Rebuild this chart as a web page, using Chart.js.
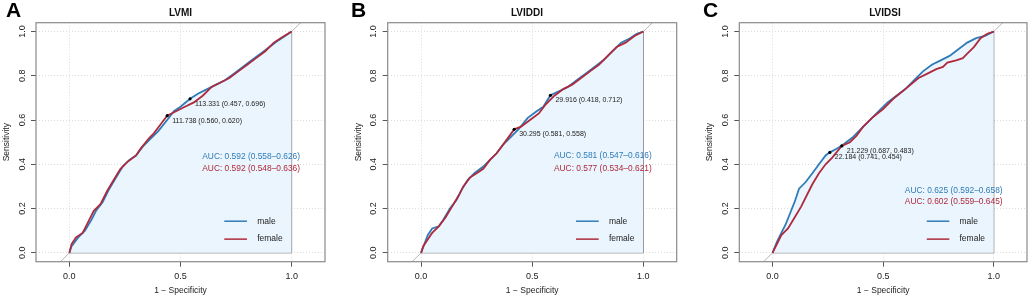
<!DOCTYPE html>
<html>
<head>
<meta charset="utf-8">
<script src="https://cdn.jsdelivr.net/npm/chart.js@4.4.1/dist/chart.umd.min.js"></script>
<style>
  body { margin: 0; background: #fff; width: 1031px; height: 299px; overflow: hidden; position: relative; }
  canvas { position: absolute; top: 0; }
</style>
</head>
<body>
<canvas id="rocA" width="329" height="299" style="left:0px"></canvas>
<canvas id="rocB" width="330" height="299" style="left:351px"></canvas>
<canvas id="rocC" width="328" height="299" style="left:703px"></canvas>
<script>
// axis ticks
const xTicks = [0, 0.5, 1];
const yTicks = [0, 0.2, 0.4, 0.6, 0.8, 1];
const groups = ['male', 'female'];

// ROC curves, [1 - specificity, sensitivity]
const lvmiMale = [[0,0],[0.01,0.03],[0.04,0.07],[0.07,0.10],[0.10,0.15],[0.12,0.19],[0.15,0.23],[0.18,0.29],[0.21,0.34],[0.24,0.39],[0.27,0.42],[0.30,0.44],[0.33,0.48],[0.36,0.51],[0.40,0.55],[0.44,0.60],[0.47,0.64],[0.50,0.66],[0.543,0.696],[0.58,0.72],[0.62,0.74],[0.66,0.76],[0.70,0.78],[0.74,0.81],[0.78,0.84],[0.82,0.87],[0.86,0.90],[0.90,0.93],[0.94,0.96],[0.97,0.98],[1,1]];
const lvmiFemale = [[0,0],[0.01,0.04],[0.03,0.07],[0.06,0.09],[0.09,0.15],[0.11,0.19],[0.14,0.22],[0.17,0.28],[0.20,0.33],[0.23,0.38],[0.26,0.41],[0.30,0.44],[0.32,0.47],[0.36,0.52],[0.38,0.54],[0.41,0.58],[0.44,0.62],[0.48,0.64],[0.52,0.66],[0.56,0.68],[0.60,0.71],[0.64,0.75],[0.68,0.77],[0.72,0.79],[0.76,0.82],[0.80,0.85],[0.84,0.88],[0.88,0.91],[0.92,0.95],[0.95,0.97],[1,1]];
const lviddiMale = [[0,0],[0.015,0.04],[0.03,0.08],[0.05,0.11],[0.08,0.12],[0.10,0.15],[0.13,0.20],[0.16,0.24],[0.18,0.28],[0.21,0.33],[0.24,0.36],[0.28,0.39],[0.31,0.42],[0.34,0.45],[0.37,0.49],[0.40,0.52],[0.44,0.56],[0.48,0.61],[0.52,0.64],[0.55,0.66],[0.582,0.712],[0.62,0.73],[0.66,0.75],[0.70,0.78],[0.74,0.81],[0.78,0.84],[0.82,0.87],[0.86,0.91],[0.90,0.95],[0.94,0.97],[0.97,0.99],[1,1]];
const lviddiFemale = [[0,0],[0.01,0.03],[0.03,0.06],[0.05,0.09],[0.08,0.12],[0.11,0.16],[0.14,0.21],[0.17,0.26],[0.19,0.30],[0.22,0.34],[0.25,0.36],[0.28,0.38],[0.31,0.42],[0.34,0.45],[0.37,0.49],[0.419,0.558],[0.45,0.57],[0.49,0.60],[0.53,0.63],[0.56,0.67],[0.60,0.71],[0.64,0.74],[0.68,0.76],[0.72,0.79],[0.76,0.82],[0.80,0.85],[0.84,0.89],[0.88,0.93],[0.92,0.95],[0.96,0.98],[1,1]];
const lvidsiMale = [[0,0],[0.02,0.05],[0.04,0.09],[0.06,0.13],[0.08,0.18],[0.10,0.23],[0.12,0.29],[0.15,0.32],[0.18,0.36],[0.21,0.40],[0.24,0.44],[0.259,0.454],[0.29,0.47],[0.32,0.49],[0.36,0.52],[0.40,0.56],[0.44,0.60],[0.48,0.64],[0.52,0.68],[0.56,0.71],[0.60,0.74],[0.64,0.78],[0.68,0.82],[0.72,0.85],[0.76,0.87],[0.80,0.89],[0.84,0.92],[0.88,0.95],[0.92,0.97],[0.96,0.98],[1,1]];
const lvidsiFemale = [[0,0],[0.02,0.04],[0.04,0.08],[0.07,0.11],[0.10,0.16],[0.13,0.21],[0.15,0.25],[0.18,0.31],[0.21,0.36],[0.24,0.40],[0.27,0.43],[0.313,0.483],[0.35,0.50],[0.38,0.53],[0.41,0.57],[0.45,0.61],[0.50,0.65],[0.55,0.70],[0.60,0.74],[0.66,0.79],[0.70,0.81],[0.74,0.83],[0.77,0.84],[0.79,0.86],[0.83,0.87],[0.86,0.88],[0.88,0.90],[0.91,0.93],[0.94,0.97],[0.97,0.99],[1,1]];

// best thresholds: value, specificity, sensitivity
const lvmiThreshold = [113.331, 111.738];
const lvmiSpec = [0.457, 0.560];
const lvmiSens = [0.696, 0.620];
const lviddiThreshold = [29.916, 30.295];
const lviddiSpec = [0.418, 0.581];
const lviddiSens = [0.712, 0.558];
const lvidsiThreshold = [21.229, 22.184];
const lvidsiSpec = [0.687, 0.741];
const lvidsiSens = [0.483, 0.454];

// AUC with 95% CI, [male, female]
const lvmiAuc = [0.592, 0.592], lvmiLow = [0.558, 0.548], lvmiHigh = [0.626, 0.636];
const lviddiAuc = [0.581, 0.577], lviddiLow = [0.547, 0.534], lviddiHigh = [0.616, 0.621];
const lvidsiAuc = [0.625, 0.602], lvidsiLow = [0.592, 0.559], lvidsiHigh = [0.658, 0.645];

// polygon frame and chance line
const aucFrame = [[0,0],[1,0],[1,1]];
const chanceLine = [[-0.2,-0.2],[1.2,1.2]];

const blue = '#2f7bb9';
const red = '#ae2a3c';
const fillBlue = '#ebf5fd';
const font = "'Liberation Sans', Arial, sans-serif";
const pts = arr => arr.map(([x, y]) => ({ x, y }));

function drawPanel(id, p) {
  const canvas = document.getElementById(id);
  const off = parseFloat(canvas.style.left);
  const thres = p.spec.map((s, i) => ({ x: 1 - s, y: p.sens[i] }));

  new Chart(canvas, {
    type: 'scatter',
    data: {
      datasets: [
        { data: thres, pointRadius: 1.6, pointBackgroundColor: '#000', pointBorderWidth: 0 },
        { label: groups[1], data: pts(p.female), showLine: true, borderColor: red, borderWidth: 1.8, pointRadius: 0 },
        { label: groups[0], data: pts(p.male), showLine: true, borderColor: blue, borderWidth: 1.8, pointRadius: 0,
          fill: 'origin', backgroundColor: fillBlue },
        { data: pts(aucFrame), showLine: true, borderColor: '#7a7a7a', borderWidth: 1, pointRadius: 0 },
        { data: pts(chanceLine), showLine: true, borderColor: '#b4b4b4', borderWidth: 1, pointRadius: 0 }
      ]
    },
    options: {
      responsive: false,
      animation: false,
      layout: { padding: { top: 22.7, left: 0, bottom: 0, right: canvas.width - p.yW - p.boxW } },
      plugins: { legend: { display: false }, tooltip: { enabled: false } },
      scales: {
        x: {
          type: 'linear', min: -0.15, max: 1.15,
          afterBuildTicks: s => { s.ticks = xTicks.map(v => ({ value: v })); },
          afterFit: s => { s.height = 37.3; },
          grid: { color: '#dcdcdc', tickColor: '#555', tickLength: 5, tickWidth: 1 },
          border: { display: false, dash: [1, 2] },
          ticks: { font: { family: font, size: 9 }, color: '#222', padding: 4, maxRotation: 0, callback: v => v.toFixed(1) },
          title: { display: true, text: '1 − Specificity', font: { family: font, size: 8.5 }, color: '#222', padding: { top: 0, bottom: 3.4 } }
        },
        y: {
          type: 'linear', min: -0.04, max: 1.04,
          afterBuildTicks: s => { s.ticks = yTicks.map(v => ({ value: v })); },
          afterFit: s => { s.width = p.yW; },
          grid: { color: '#dcdcdc', tickColor: '#555', tickLength: 5, tickWidth: 1 },
          border: { display: false, dash: [1, 2] },
          ticks: { display: false }
        }
      }
    },
    plugins: [{
      id: 'rocText',
      afterDraw(chart) {
        const { ctx, chartArea: a, scales: { x, y } } = chart;
        ctx.save();
        ctx.strokeStyle = '#8a8a8a';
        ctx.lineWidth = 1.2;
        ctx.strokeRect(a.left, a.top, a.right - a.left, a.bottom - a.top);

        // rotated y tick labels and y title
        ctx.fillStyle = '#222';
        ctx.textAlign = 'center';
        ctx.textBaseline = 'middle';
        ctx.font = `9px ${font}`;
        yTicks.forEach(v => {
          ctx.save();
          ctx.translate(a.left - 13.8, y.getPixelForValue(v));
          ctx.rotate(-Math.PI / 2);
          ctx.fillText(v.toFixed(1), 0, 0);
          ctx.restore();
        });
        ctx.save();
        ctx.font = `8.5px ${font}`;
        ctx.translate(a.left - 29.5, (a.top + a.bottom) / 2);
        ctx.rotate(-Math.PI / 2);
        ctx.fillText('Sensitivity', 0, 0);
        ctx.restore();

        // title and panel letter
        ctx.textBaseline = 'alphabetic';
        ctx.fillStyle = '#111';
        ctx.font = `bold 10px ${font}`;
        ctx.fillText(p.title, p.titleX - off, 15.7);
        ctx.textAlign = 'left';
        ctx.fillStyle = '#000';
        ctx.font = `bold 21px ${font}`;
        ctx.fillText(p.letter, p.letterX - off, 17);

        // threshold labels
        ctx.textBaseline = 'middle';
        ctx.fillStyle = '#222';
        ctx.font = `7px ${font}`;
        p.threshold.forEach((t, i) => {
          const px = x.getPixelForValue(1 - p.spec[i]);
          const py = y.getPixelForValue(p.sens[i]);
          ctx.fillText(`${t.toFixed(3)} (${p.spec[i].toFixed(3)}, ${p.sens[i].toFixed(3)})`, px + 5, py + 5);
        });

        // AUC texts
        ctx.font = `8.4px ${font}`;
        [blue, red].forEach((c, i) => {
          ctx.fillStyle = c;
          ctx.fillText(`AUC: ${p.auc[i].toFixed(3)} (${p.low[i].toFixed(3)}–${p.high[i].toFixed(3)})`,
            x.getPixelForValue(0.598), y.getPixelForValue(p.aucY[i]));
        });

        // legend
        ctx.font = `8.5px ${font}`;
        [[blue, 0.143], [red, 0.062]].forEach(([c, ly], i) => {
          const py = y.getPixelForValue(ly);
          ctx.strokeStyle = c;
          ctx.lineWidth = 1.5;
          ctx.beginPath();
          ctx.moveTo(x.getPixelForValue(0.697), py);
          ctx.lineTo(x.getPixelForValue(0.799), py);
          ctx.stroke();
          ctx.fillStyle = '#222';
          ctx.fillText(groups[i], x.getPixelForValue(0.845), py);
        });
        ctx.restore();
      }
    }]
  });
}

drawPanel('rocA', { title: 'LVMI', letter: 'A', titleX: 180.5, letterX: 6, yW: 36, boxW: 289,
  male: lvmiMale, female: lvmiFemale, threshold: lvmiThreshold, spec: lvmiSpec, sens: lvmiSens,
  auc: lvmiAuc, low: lvmiLow, high: lvmiHigh, aucY: [0.436, 0.382] });
drawPanel('rocB', { title: 'LVIDDI', letter: 'B', titleX: 527, letterX: 351, yW: 36.7, boxW: 289,
  male: lviddiMale, female: lviddiFemale, threshold: lviddiThreshold, spec: lviddiSpec, sens: lviddiSens,
  auc: lviddiAuc, low: lviddiLow, high: lviddiHigh, aucY: [0.437, 0.382] });
drawPanel('rocC', { title: 'LVIDSI', letter: 'C', titleX: 885, letterX: 703, yW: 36.3, boxW: 287.7,
  male: lvidsiMale, female: lvidsiFemale, threshold: lvidsiThreshold, spec: lvidsiSpec, sens: lvidsiSens,
  auc: lvidsiAuc, low: lvidsiLow, high: lvidsiHigh, aucY: [0.282, 0.232] });
</script>
</body>
</html>
